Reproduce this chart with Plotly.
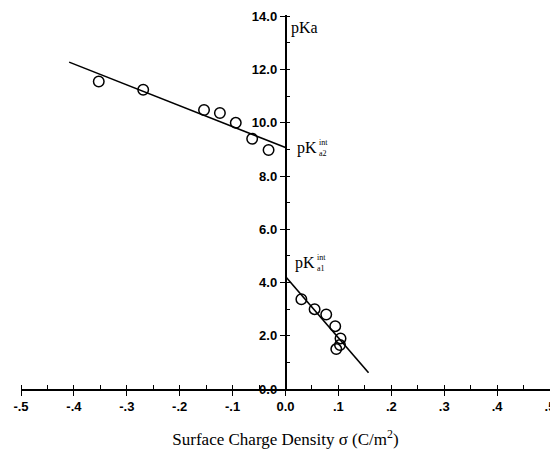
import plotly.graph_objects as go

# Data
sigma_a2 = [-0.353, -0.269, -0.154, -0.124, -0.094, -0.063, -0.032]
pka_a2 = [11.55, 11.24, 10.48, 10.37, 10.00, 9.40, 8.98]
fit_a2_x = [-0.409, 0.0]
fit_a2_y = [12.28, 9.07]

sigma_a1 = [0.030, 0.055, 0.077, 0.094, 0.104, 0.103, 0.096]
pka_a1 = [3.37, 3.00, 2.80, 2.36, 1.90, 1.65, 1.50]
fit_a1_x = [0.0, 0.157]
fit_a1_y = [4.23, 0.61]

x_tickvals = [-0.5, -0.4, -0.3, -0.2, -0.1, 0.0, 0.1, 0.2, 0.3, 0.4, 0.5]
x_ticktext = ["-.5", "-.4", "-.3", "-.2", "-.1", "0.0", ".1", ".2", ".3", ".4", ".5"]
y_tickvals = [0, 2, 4, 6, 8, 10, 12, 14]
y_ticktext = ["0.0", "2.0", "4.0", "6.0", "8.0", "10.0", "12.0", "14.0"]

fig = go.Figure()
for xs, ys in [(fit_a2_x, fit_a2_y), (fit_a1_x, fit_a1_y)]:
    fig.add_trace(go.Scatter(x=xs, y=ys, mode="lines",
                             line=dict(color="black", width=1.6),
                             showlegend=False, hoverinfo="skip"))
for xs, ys in [(sigma_a2, pka_a2), (sigma_a1, pka_a1)]:
    fig.add_trace(go.Scatter(x=xs, y=ys, mode="markers",
                             marker=dict(symbol="circle-open", size=10.5,
                                         color="black", line=dict(width=1.5)),
                             showlegend=False))

tickfont = dict(family="Liberation Sans", size=13, color="black", weight="bold")
fig.update_layout(
    width=550, height=441,
    margin=dict(l=13, r=8, t=7, b=60),
    paper_bgcolor="white", plot_bgcolor="white",
    xaxis=dict(range=[-0.5, 0.5], domain=[0, 1], automargin=False,
               ticklabeloverflow="allow",
               tickvals=x_tickvals, ticktext=x_ticktext, tickfont=tickfont,
               showgrid=False, zeroline=False, showline=True,
               linecolor="black", linewidth=1.5,
               ticks="outside", ticklen=5, tickwidth=1.3, tickcolor="black",
               minor=dict(dtick=0.05, tick0=0, ticks="inside", ticklen=4,
                          tickwidth=1, tickcolor="black", showgrid=False),
               title=dict(text="Surface Charge Density σ (C/m<sup>2</sup>)",
                          font=dict(family="Liberation Serif", size=17, color="black"),
                          standoff=20)),
    yaxis=dict(range=[0, 14.05], anchor="free", position=0.5, automargin=False,
               ticklabeloverflow="allow",
               tickvals=y_tickvals, ticktext=y_ticktext, tickfont=tickfont,
               showgrid=False, zeroline=False, showline=True,
               linecolor="black", linewidth=1.5,
               ticks="outside", ticklen=5, tickwidth=1.3, tickcolor="black",
               minor=dict(dtick=1, tick0=0, ticks="inside", ticklen=4,
                          tickwidth=1, tickcolor="black", showgrid=False)),
)

serif = dict(family="Liberation Serif", size=16, color="black")
small = dict(family="Liberation Serif", size=8, color="black")
fig.add_annotation(x=0.0, y=13.55, text="pKa", showarrow=False, xanchor="left",
                   xshift=3, font=serif)
for yv, sub, dx in [(9.05, "a2", 9), (4.72, "a1", 7)]:
    fig.add_annotation(x=0.0, y=yv, text="pK", showarrow=False, xanchor="left",
                       xshift=dx, font=serif)
    fig.add_annotation(x=0.0, y=yv, text="int", showarrow=False, xanchor="left",
                       xshift=dx + 22, yshift=6, font=small)
    fig.add_annotation(x=0.0, y=yv, text=sub, showarrow=False, xanchor="left",
                       xshift=dx + 22, yshift=-5, font=small)

fig.write_html("out.html")
